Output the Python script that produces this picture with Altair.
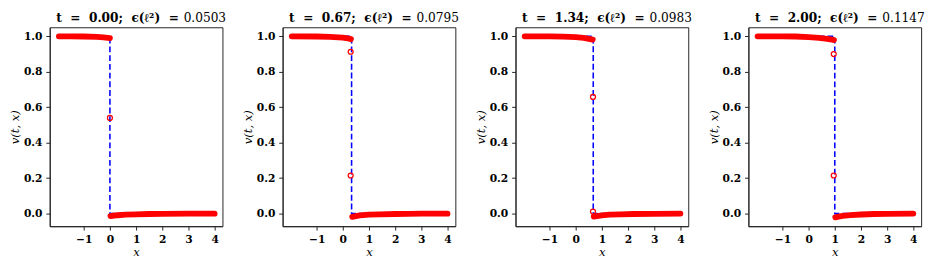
import altair as alt
import pandas as pd

# ---- data ----
T_LABELS = ["0.00", "0.67", "1.34", "2.00"]
ERRORS = ["0.0503", "0.0795", "0.0983", "0.1147"]
SHOCK = [0.0, 0.335, 0.67, 1.0]
X_START, X_END = -1.95, 4.0

LEFT_X = [
    [-1.95, -1.5, -1.0, -0.5, -0.25, 0.0],
    [-1.95, -1.0, -0.5, 0.0, 0.2, 0.31],
    [-1.95, -1.0, -0.5, 0.0, 0.3, 0.5, 0.65],
    [-1.95, -1.0, -0.5, 0.0, 0.4, 0.7, 0.9, 0.97],
]
LEFT_V = [
    [1.0, 1.0, 0.999, 0.997, 0.994, 0.99],
    [1.0, 0.999, 0.997, 0.993, 0.988, 0.984],
    [1.0, 1.0, 0.998, 0.995, 0.991, 0.986, 0.982],
    [1.0, 1.0, 0.999, 0.996, 0.991, 0.986, 0.981, 0.979],
]
RIGHT_X = [
    [0.02, 0.1, 0.3, 0.6, 1.0, 1.5, 2.0, 3.0, 4.0],
    [0.36, 0.45, 0.65, 1.0, 1.4, 2.0, 2.5, 3.0, 4.0],
    [0.69, 0.8, 1.0, 1.3, 1.7, 2.2, 3.0, 4.0],
    [1.02, 1.1, 1.3, 1.6, 2.0, 2.5, 3.0, 4.0],
]
RIGHT_V = [
    [-0.014, -0.012, -0.009, -0.006, -0.004, -0.002, -0.001, 0.0, 0.0],
    [-0.018, -0.015, -0.01, -0.006, -0.004, -0.002, -0.001, 0.0, 0.0],
    [-0.017, -0.014, -0.01, -0.006, -0.004, -0.002, -0.001, 0.0],
    [-0.021, -0.018, -0.013, -0.008, -0.005, -0.002, -0.001, 0.0],
]
PT_X = [[0.0], [0.30, 0.30], [0.66, 0.66], [0.96, 0.96]]
PT_V = [[0.54], [0.913, 0.215], [0.658, 0.012], [0.90, 0.215]]

X_TICKS = [-1, 0, 1, 2, 3, 4]
Y_TICKS = [0.0, 0.2, 0.4, 0.6, 0.8, 1.0]

FONT = "DejaVu Serif"
PW, PH = 178, 205
GAP = "\u2002\u2009"


def panel(i):
    s = SHOCK[i]
    band = pd.DataFrame({
        "x": LEFT_X[i] + RIGHT_X[i],
        "v": LEFT_V[i] + RIGHT_V[i],
        "seg": ["L"] * len(LEFT_X[i]) + ["R"] * len(RIGHT_X[i]),
    })
    exact = pd.DataFrame({"x": [X_START, s, s, X_END], "v": [1, 1, 0, 0], "o": [0, 1, 2, 3]})
    pts = pd.DataFrame({"x": PT_X[i], "v": PT_V[i]})
    tdf = pd.DataFrame({"a": [f"t{GAP}={GAP}{T_LABELS[i]};{GAP}ϵ(ℓ²){GAP}="], "b": [ERRORS[i]]})

    xs = alt.Scale(domain=[-2.3, 4.3], nice=False, zero=False)
    ys = alt.Scale(domain=[-0.071, 1.051], nice=False, zero=False)
    xenc = alt.X("x:Q", scale=xs, axis=alt.Axis(values=X_TICKS, format="d", title="x"))
    yenc = alt.Y("v:Q", scale=ys, axis=alt.Axis(values=Y_TICKS, format=".1f", title="v(t, x)"))

    ex = alt.Chart(exact).mark_line(color="#0000ff", strokeDash=[6, 3], strokeWidth=1.6).encode(
        x=xenc, y=yenc, order="o:Q")
    bd = alt.Chart(band).mark_line(color="#ff0000", strokeWidth=6, strokeCap="round",
                                   strokeJoin="round").encode(x=xenc, y=yenc, detail="seg:N")
    pt = alt.Chart(pts).mark_point(shape="circle", filled=False, color="#ff0000", size=26,
                                   strokeWidth=1.3, opacity=1).encode(x=xenc, y=yenc)
    tb = alt.Chart(tdf).mark_text(font=FONT, fontWeight="bold", fontSize=12.5, align="right",
                                  baseline="alphabetic", color="black").encode(
        x=alt.value(133), y=alt.value(-5), text="a:N")
    tr = alt.Chart(tdf).mark_text(font=FONT, fontWeight="normal", fontSize=12.5, align="left",
                                  baseline="alphabetic", color="black").encode(
        x=alt.value(138), y=alt.value(-5), text="b:N")
    return alt.layer(ex, bd, pt, tb, tr).properties(width=PW, height=PH)


chart = alt.hconcat(*[panel(i) for i in range(4)], spacing=14).configure(
    padding={"top": 0, "left": 0, "right": 0, "bottom": 0}, background="white"
).configure_view(stroke="#222", strokeWidth=1).configure_axis(
    grid=False, domainColor="#222", tickColor="#222", tickSize=4, labelPadding=4,
    labelFont=FONT, labelFontWeight="bold", labelFontSize=11, labelColor="black",
    titleFont=FONT, titleFontStyle="italic", titleFontWeight="normal", titleFontSize=12,
    titleColor="black",
).configure_axisY(minExtent=27, maxExtent=27, titlePadding=2
).configure_axisX(minExtent=20, maxExtent=20, titlePadding=1)

chart.save("out.html", embed_options={"renderer": "svg", "actions": False})
